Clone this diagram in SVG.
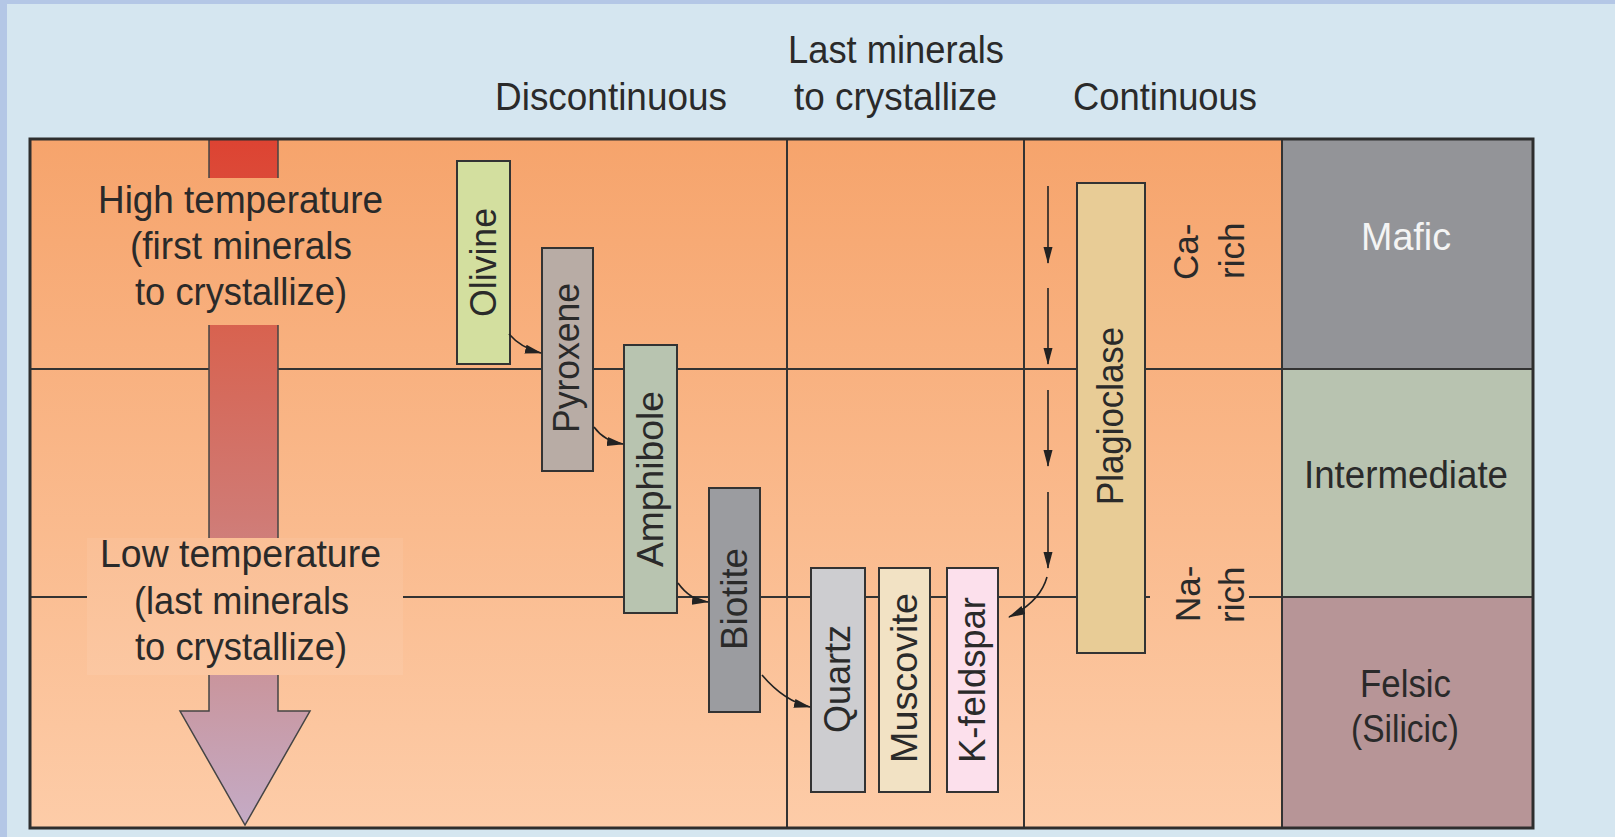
<svg xmlns="http://www.w3.org/2000/svg" width="1615" height="837" viewBox="0 0 1615 837">
<style>
.t{font-family:"Liberation Sans",Arial,sans-serif;font-size:38px;fill:#2a2a2a}
.m{font-family:"Liberation Sans",Arial,sans-serif;font-size:37px;fill:#2a2a2a}
.r{font-family:"Liberation Sans",Arial,sans-serif;font-size:35px;fill:#2a2a2a}
.ln{stroke:#333;stroke-width:2;fill:none}
.box{stroke:#333;stroke-width:2}
.arr{stroke:#222;stroke-width:1.6;fill:none;marker-end:url(#ah)}
</style>
<defs>
<linearGradient id="bg" gradientUnits="userSpaceOnUse" x1="0" y1="139" x2="0" y2="828">
<stop offset="0" stop-color="#f6a46c"/>
<stop offset="1" stop-color="#fdcca8"/>
</linearGradient>
<linearGradient id="bar" gradientUnits="userSpaceOnUse" x1="0" y1="139" x2="0" y2="825">
<stop offset="0" stop-color="#dd4332"/>
<stop offset="0.27" stop-color="#d8624f"/>
<stop offset="0.55" stop-color="#d07a74"/>
<stop offset="0.8" stop-color="#c997a0"/>
<stop offset="1" stop-color="#c4abc6"/>
</linearGradient>
<marker id="ah" markerUnits="userSpaceOnUse" markerWidth="18" markerHeight="10" refX="16" refY="4.5" orient="auto">
<path d="M0,0 L17,4.5 L0,9 Z" fill="#222"/>
</marker>
</defs>

<rect x="0" y="0" width="1615" height="837" fill="#d5e6f0"/>
<rect x="0" y="0" width="1615" height="4" fill="#b4c7e6"/>
<rect x="0" y="0" width="7" height="837" fill="#b4c7e6"/>

<g id="headers">
<text class="t" x="495" y="110" textLength="232" lengthAdjust="spacingAndGlyphs">Discontinuous</text>
<text class="t" x="788" y="63" textLength="216" lengthAdjust="spacingAndGlyphs">Last minerals</text>
<text class="t" x="794" y="110" textLength="203" lengthAdjust="spacingAndGlyphs">to crystallize</text>
<text class="t" x="1073" y="110" textLength="184" lengthAdjust="spacingAndGlyphs">Continuous</text>
</g>

<g id="panel">
<rect x="30" y="139" width="1252" height="689" fill="url(#bg)"/>
<rect x="1282" y="139" width="251" height="230" fill="#939498"/>
<rect x="1282" y="369" width="251" height="228" fill="#b8c3b0"/>
<rect x="1282" y="597" width="251" height="231" fill="#b79597"/>
<line class="ln" x1="30" y1="369" x2="1533" y2="369"/>
<line class="ln" x1="30" y1="597" x2="1533" y2="597"/>
<line class="ln" x1="787" y1="139" x2="787" y2="828"/>
<line class="ln" x1="1024" y1="139" x2="1024" y2="828"/>
<line class="ln" x1="1282" y1="139" x2="1282" y2="828"/>
</g>

<g id="temperature-arrow">
<path d="M209,139 H278 V711 H310 L245,825 L180,711 H209 Z" fill="url(#bar)" stroke="#444" stroke-width="1.5"/>
<rect x="183" y="178" width="110" height="147" fill="url(#bg)"/>
<rect x="87" y="538" width="316" height="137" fill="url(#bg)"/>
<rect x="87" y="538" width="316" height="137" fill="#fff" fill-opacity="0.07"/>
<rect x="1150" y="553" width="99" height="80" fill="url(#bg)"/>
</g>

<g id="label-high">
<text class="t" x="98" y="213" textLength="285" lengthAdjust="spacingAndGlyphs">High temperature</text>
<text class="t" x="130" y="259" textLength="222" lengthAdjust="spacingAndGlyphs">(first minerals</text>
<text class="t" x="135" y="305" textLength="212" lengthAdjust="spacingAndGlyphs">to crystallize)</text>
</g>
<g id="label-low">
<text class="t" x="100" y="567" textLength="281" lengthAdjust="spacingAndGlyphs">Low temperature</text>
<text class="t" x="134" y="614" textLength="215" lengthAdjust="spacingAndGlyphs">(last minerals</text>
<text class="t" x="135" y="660" textLength="212" lengthAdjust="spacingAndGlyphs">to crystallize)</text>
</g>

<g id="olivine">
<rect class="box" x="457" y="161" width="53" height="203" fill="#d3df9f"/>
<text class="m" transform="translate(483.5,262.5) rotate(-90)" x="-54.5" y="12" textLength="109" lengthAdjust="spacingAndGlyphs">Olivine</text>
</g>
<g id="pyroxene">
<rect class="box" x="542" y="248" width="51" height="223" fill="#b8aca5"/>
<text class="m" transform="translate(567.5,358) rotate(-90)" x="-75" y="11" textLength="150" lengthAdjust="spacingAndGlyphs">Pyroxene</text>
</g>
<g id="amphibole">
<rect class="box" x="624" y="345" width="53" height="268" fill="#b8c4b0"/>
<text class="m" transform="translate(650.5,479) rotate(-90)" x="-88" y="12" textLength="176" lengthAdjust="spacingAndGlyphs">Amphibole</text>
</g>
<g id="biotite">
<rect class="box" x="709" y="488" width="51" height="224" fill="#9b9ca0"/>
<text class="m" transform="translate(734.5,599) rotate(-90)" x="-51" y="12" textLength="102" lengthAdjust="spacingAndGlyphs">Biotite</text>
</g>
<g id="quartz">
<rect class="box" x="811" y="568" width="54" height="224" fill="#cdcdd0"/>
<text class="m" transform="translate(838,679) rotate(-90)" x="-54" y="12" textLength="108" lengthAdjust="spacingAndGlyphs">Quartz</text>
</g>
<g id="muscovite">
<rect class="box" x="879" y="568" width="51" height="224" fill="#f2e2c4"/>
<text class="m" transform="translate(904.5,678) rotate(-90)" x="-85" y="12" textLength="170" lengthAdjust="spacingAndGlyphs">Muscovite</text>
</g>
<g id="k-feldspar">
<rect class="box" x="947" y="568" width="51" height="224" fill="#fce0ec"/>
<text class="m" transform="translate(972.5,680) rotate(-90)" x="-83" y="12" textLength="166" lengthAdjust="spacingAndGlyphs">K-feldspar</text>
</g>
<g id="plagioclase">
<rect class="box" x="1077" y="183" width="68" height="470" fill="#e8cc96"/>
<text class="m" transform="translate(1111,416) rotate(-90)" x="-89" y="12" textLength="178" lengthAdjust="spacingAndGlyphs">Plagioclase</text>
</g>

<g id="ca-rich">
<text class="r" transform="translate(1198,280) rotate(-90)">Ca-</text>
<text class="r" transform="translate(1244,279) rotate(-90)">rich</text>
</g>
<g id="na-rich">
<text class="r" transform="translate(1200,622) rotate(-90)">Na-</text>
<text class="r" transform="translate(1244,623) rotate(-90)">rich</text>
</g>

<g id="mafic"><text class="t" x="1361" y="250" textLength="90" lengthAdjust="spacingAndGlyphs" style="fill:#f4f4f4">Mafic</text></g>
<g id="intermediate"><text class="t" x="1304" y="488" textLength="204" lengthAdjust="spacingAndGlyphs">Intermediate</text></g>
<g id="felsic">
<text class="t" x="1360" y="697" textLength="91" lengthAdjust="spacingAndGlyphs">Felsic</text>
<text class="t" x="1351" y="742" textLength="108" lengthAdjust="spacingAndGlyphs">(Silicic)</text>
</g>

<g id="connectors">
<path class="arr" d="M509,334 Q521,348 541,353"/>
<path class="arr" d="M594,427 Q604,441 623,444"/>
<path class="arr" d="M678,583 Q690,600 708,602"/>
<path class="arr" d="M762,675 Q784,701 810,707"/>
<line class="arr" x1="1048" y1="186" x2="1048" y2="263"/>
<line class="arr" x1="1048" y1="288" x2="1048" y2="364"/>
<line class="arr" x1="1048" y1="390" x2="1048" y2="466"/>
<line class="arr" x1="1048" y1="492" x2="1048" y2="568"/>
<path class="arr" d="M1047,577 Q1040,602 1009,617"/>
</g>

<rect x="30" y="139" width="1503" height="689" fill="none" stroke="#2e2e2e" stroke-width="3"/>
</svg>
